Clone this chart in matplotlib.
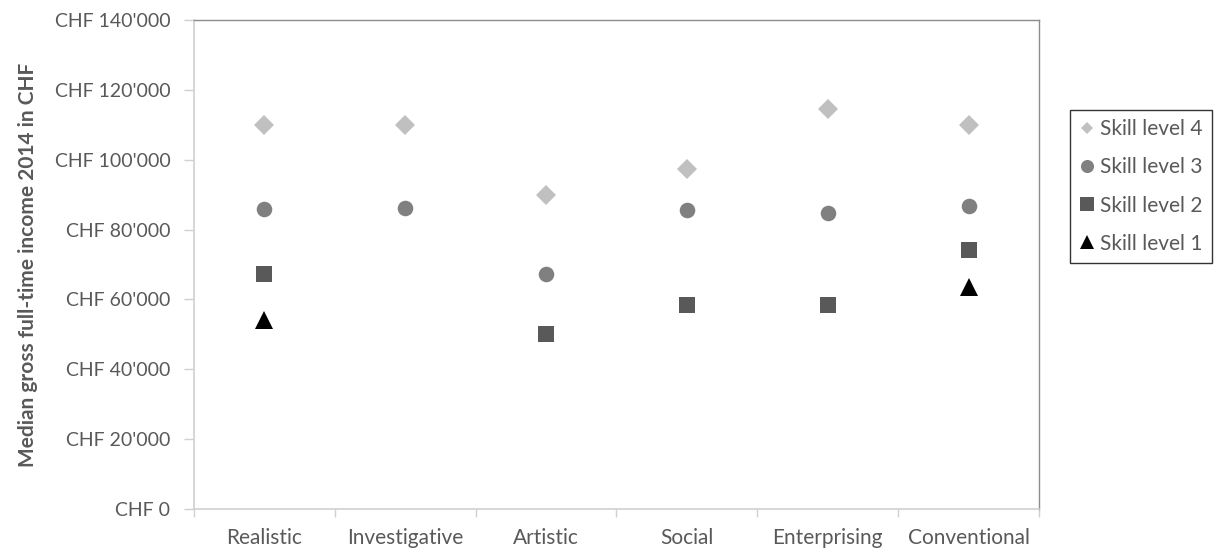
import matplotlib.pyplot as plt
import matplotlib.ticker as ticker

categories = ['Realistic', 'Investigative', 'Artistic', 'Social', 'Enterprising', 'Conventional']

# median income per category (None = no value)
skill4 = [110000, 110000, 90000, 97400, 114600, 110000]
skill3 = [86000, 86100, 67400, 85600, 84700, 86800]
skill2 = [67300, None, 50100, 58400, 58400, 74200]
skill1 = [54000, None, None, None, None, 63600]

# name, values, marker, colour, size in plot, size in legend
series = [
    ('Skill level 4', skill4, 'D', '#C0C0C0', 10.5, 6.2),
    ('Skill level 3', skill3, 'o', '#808080', 11.2, 9.4),
    ('Skill level 2', skill2, 's', '#595959', 11.5, 10),
    ('Skill level 1', skill1, '^', '#000000', 13.2, 9.4),
]

plt.rcParams['font.family'] = ['Lato', 'DejaVu Sans']

fig = plt.figure(figsize=(12.15, 5.51), dpi=100)
ax = fig.add_axes([194 / 1215, 42 / 551, 845 / 1215, 489 / 551])

handles = []
for name, vals, mk, col, ms, lms in series:
    xs = [i for i, v in enumerate(vals) if v is not None]
    ys = [v for v in vals if v is not None]
    h, = ax.plot(xs, ys, linestyle='none', marker=mk, color=col, markersize=ms,
                 markeredgewidth=0, label=name)
    handles.append(h)

ax.set_xlim(-0.5, len(categories) - 0.5)
ax.set_ylim(0, 140000)
ax.yaxis.set_major_locator(ticker.MultipleLocator(20000))
ax.yaxis.set_major_formatter(ticker.FuncFormatter(
    lambda v, p: 'CHF 0' if v == 0 else "CHF {:,}".format(int(v)).replace(',', "'")))

ax.set_xticks([i - 0.5 for i in range(len(categories) + 1)])
ax.set_xticklabels([])
ax.set_xticks(range(len(categories)), minor=True)
ax.set_xticklabels(categories, minor=True)
ax.tick_params(axis='x', which='minor', length=0, pad=14, labelsize=15, labelcolor='#595959')
ax.tick_params(axis='x', which='major', length=6, color='#D0D0D0', width=1)
ax.tick_params(axis='y', length=7, color='#D0D0D0', width=1, pad=10, labelsize=14,
               labelcolor='#595959')

for s in ['left', 'bottom']:
    ax.spines[s].set_color('#D0D0D0')
    ax.spines[s].set_linewidth(1.2)
for s in ['top', 'right']:
    ax.spines[s].set_color('#8C8C8C')
    ax.spines[s].set_linewidth(1.0)

ax.set_ylabel('Median gross full-time income 2014 in CHF', fontsize=15,
              fontweight='bold', color='#595959', labelpad=12)

leg = fig.legend(handles=handles, loc='upper left',
                 bbox_to_anchor=(1070 / 1215, 1 - 110 / 551), borderaxespad=0,
                 frameon=True, fancybox=False, edgecolor='black', fontsize=15,
                 handlelength=0.7, handletextpad=0.3,
                 labelspacing=0.87, borderpad=0.45, labelcolor='#595959')
leg.get_frame().set_linewidth(1.0)
for lh, s in zip(leg.legend_handles, series):
    lh.set_markersize(s[5])

fig.savefig('out.png', dpi=100)
